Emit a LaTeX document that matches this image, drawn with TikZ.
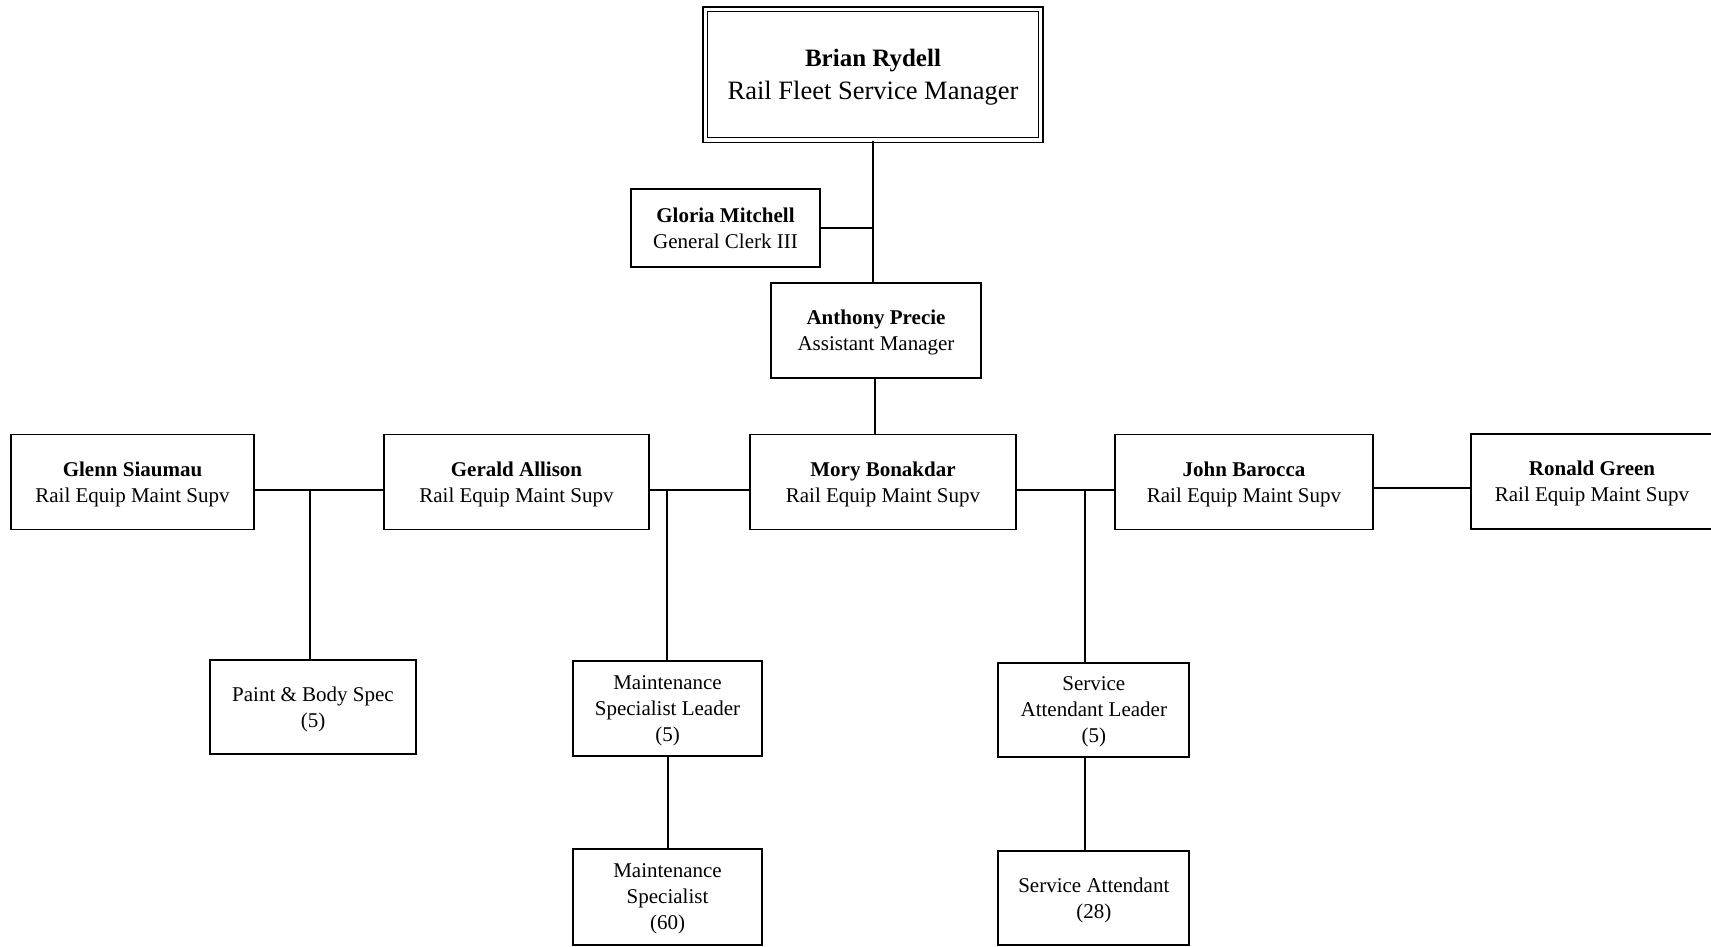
\documentclass[tikz,border=0pt]{standalone}
\usepackage{fontspec}
\setmainfont{Liberation Serif}
\begin{document}
\begin{tikzpicture}[x=1pt,y=-1pt,
  box/.style={draw, line width=1.7pt, rectangle, inner sep=0pt, align=center,
    text depth=0pt, font=\fontsize{21}{26}\selectfont},
  link/.style={line width=1.6pt}]
\useasboundingbox (0,0) rectangle (1711,946);
\begin{scope}
\clip (0,0) rectangle (1711,946);
% top
\node[box, double, line width=1.4pt, double distance=3.2pt,
  minimum width=335.5pt, minimum height=130.5pt,
  font=\fontsize{26.5}{33}\selectfont] (top) at (873,74.7)
  {{\fontsize{25}{33}\selectfont\bfseries Brian Rydell}\\Rail Fleet Service Manager};
\node[box, minimum width=189pt, minimum height=78pt] (gloria) at (725.5,228)
  {\textbf{Gloria Mitchell}\\General Clerk III};
\node[box, minimum width=210pt, minimum height=95pt] (anthony) at (876,330.5)
  {\textbf{Anthony Precie}\\Assistant Manager};
% row 2
\node[box, minimum width=243pt, minimum height=95pt] (glenn) at (132.5,482)
  {\textbf{Glenn Siaumau}\\Rail Equip Maint Supv};
\node[box, minimum width=265pt, minimum height=95pt] (gerald) at (516.5,482)
  {\textbf{Gerald Allison}\\Rail Equip Maint Supv};
\node[box, minimum width=266pt, minimum height=95pt] (mory) at (883,482)
  {\textbf{Mory Bonakdar}\\Rail Equip Maint Supv};
\node[box, minimum width=258pt, minimum height=95pt] (john) at (1244,482)
  {\textbf{John Barocca}\\Rail Equip Maint Supv};
\node[box, minimum width=242pt, minimum height=95pt] (ronald) at (1592,481.5)
  {\textbf{Ronald Green}\\Rail Equip Maint Supv};
% lower
\node[box, minimum width=206.5pt, minimum height=94pt] (paint) at (313,707)
  {Paint \& Body Spec\\(5)};
\node[box, minimum width=189pt, minimum height=95pt] (msl) at (667.5,708.5)
  {Maintenance\\Specialist Leader\\(5)};
\node[box, minimum width=189pt, minimum height=96pt] (ms) at (667.5,897)
  {Maintenance\\Specialist\\(60)};
\node[box, minimum width=191pt, minimum height=94pt] (sal) at (1093.8,709.7)
  {Service\\Attendant Leader\\(5)};
\node[box, minimum width=191pt, minimum height=94pt] (sa) at (1093.8,898)
  {Service Attendant\\(28)};
% connector coordinates
\coordinate (r1) at (0,490);
\coordinate (r2) at (0,488);
\coordinate (d1) at (310,490);
\coordinate (d2) at (667,490);
\coordinate (d3) at (1085,490);
\coordinate (v1) at (873,0);
\coordinate (v2) at (875,0);
\coordinate (v3) at (668,0);
% connectors
\draw[link] (top.south -| v1) -- (anthony.north -| v1);
\draw[link] (gloria.east) -- (gloria.east -| v1);
\draw[link] (anthony.south -| v2) -- (mory.north -| v2);
\draw[link] (glenn.east |- r1) -- (gerald.west |- r1);
\draw[link] (gerald.east |- r1) -- (mory.west |- r1);
\draw[link] (mory.east |- r1) -- (john.west |- r1);
\draw[link] (john.east |- r2) -- (ronald.west |- r2);
\draw[link] (d1) -- (d1 |- paint.north);
\draw[link] (d2) -- (d2 |- msl.north);
\draw[link] (d3) -- (d3 |- sal.north);
\draw[link] (msl.south -| v3) -- (ms.north -| v3);
\draw[link] (sal.south -| d3) -- (sa.north -| d3);
\end{scope}
\end{tikzpicture}
\end{document}
